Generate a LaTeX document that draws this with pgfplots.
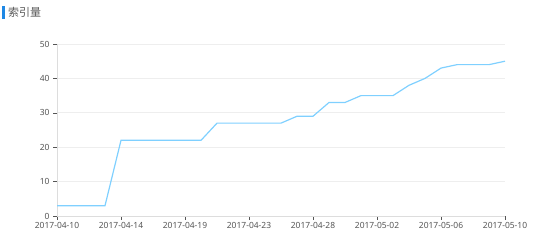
\documentclass[border=0pt]{standalone}
\usepackage{fontspec}
\setmainfont{Noto Sans}
\newfontfamily\cjk{Noto Sans CJK SC}
\usepackage{pgfplots}
\pgfplotsset{compat=1.18}
\definecolor{linec}{HTML}{7FD0FF}
\definecolor{barc}{HTML}{1E88E5}
\definecolor{txtc}{HTML}{555555}
\definecolor{axc}{HTML}{DDDDDD}
\definecolor{gridc}{HTML}{EEEEEE}
\begin{document}
\begin{tikzpicture}[x=1bp,y=1bp]
\useasboundingbox (0,0) rectangle (533,241);
\fill[barc] (2,222) rectangle (5,235);
\node[anchor=west,inner sep=0pt,font=\cjk\fontsize{11}{13}\selectfont,text=txtc] at (8,229) {索引量};
\begin{axis}[
  at={(57bp,25bp)}, anchor=south west,
  scale only axis, width=448bp, height=172bp,
  xmin=0, xmax=28, ymin=0, ymax=50,
  axis lines*=left,
  axis line style={axc, line width=0.8pt},
  ymajorgrids, grid style={gridc, line width=0.8pt},
  xtick={0,4,8,12,16,20,24,28},
  xticklabels={2017-04-10,2017-04-14,2017-04-19,2017-04-23,2017-04-28,2017-05-02,2017-05-06,2017-05-10},
  ytick={0,10,20,30,40,50},
  tick align=outside,
  major tick length=4bp,
  tick style={txtc, line width=0.6pt},
  ticklabel style={font=\fontsize{8.5}{10}\selectfont, text=txtc},
  /pgf/number format/assume math mode=true,
  xticklabel style={yshift=1bp},
  clip=false,
]
\addplot[linec, line width=1.2pt] coordinates {
(0,3) (1,3) (2,3) (3,3) (4,22) (5,22) (6,22) (7,22) (8,22) (9,22)
(10,27) (11,27) (12,27) (13,27) (14,27) (15,29) (16,29) (17,33) (18,33)
(19,35) (20,35) (21,35) (22,38) (23,40) (24,43) (25,44) (26,44) (27,44) (28,45)
};
\end{axis}
\end{tikzpicture}
\end{document}
